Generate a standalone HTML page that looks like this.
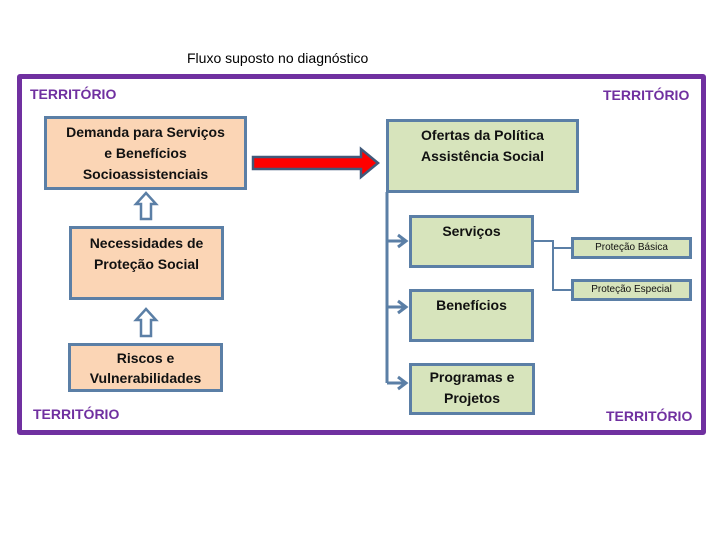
<!DOCTYPE html>
<html><head><meta charset="utf-8"><style>
body{margin:0;width:720px;height:540px;background:#fff;position:relative;overflow:hidden;font-family:"Liberation Sans","DejaVu Sans",sans-serif}
.b{position:absolute;box-sizing:border-box;border:3px solid #5b7fa6;text-align:center;font-weight:bold;color:#111;font-size:14px;line-height:21px}
.o{background:#fbd5b5}.g{background:#d7e4bc}
.t{position:absolute;color:#7030a0;font-weight:bold;font-size:14px}
</style></head><body>
<div style="position:absolute;left:187px;top:50px;font-size:14px">Fluxo suposto no diagnóstico</div>
<div style="position:absolute;left:17px;top:74px;width:689px;height:361px;box-sizing:border-box;border:5px solid #7030a0;border-radius:3px"></div>
<div class="t" style="left:30px;top:86px">TERRITÓRIO</div>
<div class="t" style="left:603px;top:87px">TERRITÓRIO</div>
<div class="t" style="left:33px;top:406px">TERRITÓRIO</div>
<div class="t" style="left:606px;top:408px">TERRITÓRIO</div>
<div class="b o" style="left:44px;top:116px;width:203px;height:74px;padding-top:3px">Demanda para Serviços<br>e Benefícios<br>Socioassistenciais</div>
<div class="b o" style="left:69px;top:226px;width:155px;height:74px;padding-top:4px">Necessidades de<br>Proteção Social</div>
<div class="b o" style="left:68px;top:343px;width:155px;height:49px;padding-top:2px;line-height:20px">Riscos e<br>Vulnerabilidades</div>
<div class="b g" style="left:386px;top:119px;width:193px;height:74px;padding-top:3px">Ofertas da Política<br>Assistência Social</div>
<div class="b g" style="left:409px;top:215px;width:125px;height:53px;padding-top:3px">Serviços</div>
<div class="b g" style="left:409px;top:289px;width:125px;height:53px;padding-top:3px">Benefícios</div>
<div class="b g" style="left:409px;top:363px;width:126px;height:52px;padding-top:1px">Programas e<br>Projetos</div>
<div class="b g" style="left:571px;top:237px;width:121px;height:22px;font-size:10px;font-weight:normal;line-height:16px">Proteção Básica</div>
<div class="b g" style="left:571px;top:279px;width:121px;height:22px;font-size:10px;font-weight:normal;line-height:16px">Proteção Especial</div>
<svg width="720" height="540" style="position:absolute;left:0;top:0">
<g fill="#fff" stroke="#5b7fa6" stroke-width="2.5">
<path d="M141,219 V204 H136 L146,193 L156,204 H151 V219 Z"/>
<path d="M141,336 V320 H136 L146,309 L156,320 H151 V336 Z"/>
</g>
<path d="M253,157 H361 V149 L378,163 L361,177 V169 H253 Z" fill="#f00" stroke="#41597a" stroke-width="2.5"/>
<g stroke="#5b7fa6" stroke-width="3" fill="none">
<path d="M387,192 V383"/>
<path d="M387,241 H404 M387,307 H404 M387,383 H404"/>
<path d="M398,235 L406,241 L398,247 M398,301 L406,307 L398,313 M398,377 L406,383 L398,389"/>
</g>
<g stroke="#5b7fa6" stroke-width="2" fill="none">
<path d="M534,241 H553 V290 H571 M553,248 H571"/>
</g>
</svg>
</body></html>
